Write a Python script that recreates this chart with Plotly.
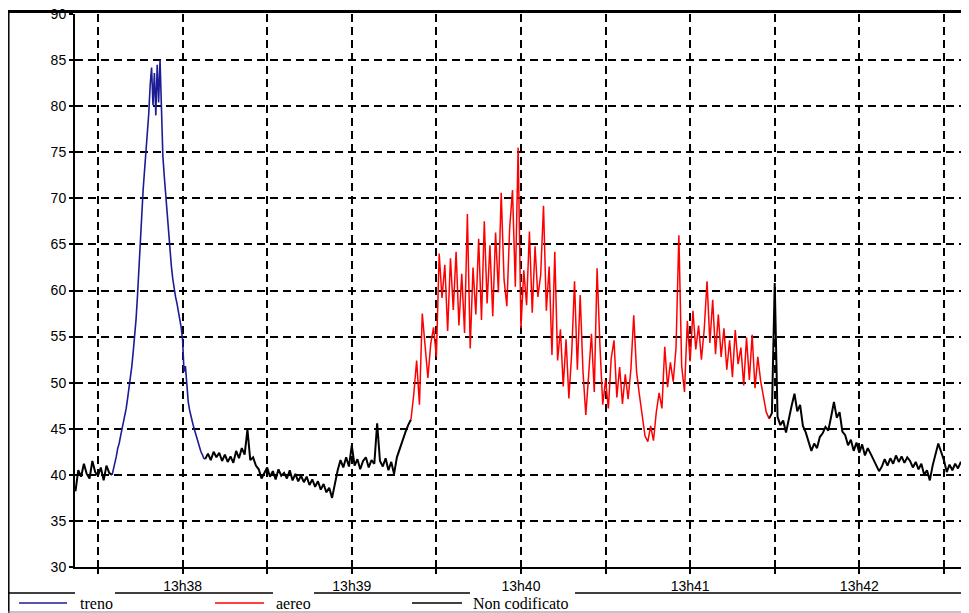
import pandas as pd
import plotly.graph_objects as go

# ---------------- data (seconds relative to 13h38:00) ----------------
black1_start, black1_step = -38, 1.0
black1_vals = [38.2, 40.5, 39.8, 41.2, 40.1, 39.6, 41.5, 40.3, 39.9, 40.8, 39.4, 41.0, 40.2, 40.0]

blue_start, blue_step = -25, 0.5
blue_vals = [40.0, 40.6, 41.5, 42.0, 42.9, 43.4, 44.2, 44.9, 45.6, 46.5, 47.2, 48.3, 49.4, 50.2,
             51.8, 53.4, 54.8, 56.9, 59.4, 62.5, 65.6, 68.2, 70.9, 73.0, 75.0, 77.4, 79.2, 82.3,
             84.2, 80.1, 83.6, 79.0, 84.5, 80.4, 85.0, 79.8, 74.6, 72.4, 70.3, 68.2, 66.0, 64.2,
             62.7, 61.3, 60.2, 59.3, 58.6, 57.8, 57.1, 56.0, 54.6, 51.2, 51.8, 49.4, 47.9, 47.0,
             46.2, 45.7, 45.1, 44.6, 43.9, 43.5, 42.9, 42.5, 42.2, 41.8, 41.7]

black2_start, black2_step = 8, 1.0
black2_vals = [41.7, 42.3, 41.6, 42.5, 41.9, 42.4, 41.5, 42.2, 41.4, 42.0, 41.3, 42.6, 41.8, 42.9,
               42.2, 44.9, 41.6, 41.9, 41.0, 40.6, 39.6, 40.3, 40.8, 39.8, 40.4, 39.5, 40.6, 39.9,
               40.2, 39.6, 40.5, 39.4, 40.1, 39.3, 39.9, 39.2, 39.8, 38.9, 39.5, 38.7, 39.3, 38.4,
               39.0, 38.1, 38.6, 37.5, 39.2, 40.5, 41.6, 40.8, 41.9, 40.9, 43.2, 41.0, 41.7, 40.6,
               41.5, 41.9, 40.8, 41.6, 41.2, 45.6, 41.5, 40.9, 41.8, 40.5, 41.4, 40.1, 41.9, 42.8,
               43.9, 44.6, 45.4, 46.0]

red_start, red_step = 81, 1.0
red_vals = [46.0, 48.8, 52.4, 47.6, 57.5, 53.8, 50.5, 54.2, 56.0, 52.8, 64.0, 59.2, 62.8, 55.6,
            63.5, 57.9, 64.2, 56.2, 61.8, 55.4, 68.3, 53.7, 62.5, 57.4, 65.6, 56.8, 67.5, 58.6,
            64.9, 57.2, 66.3, 59.8, 70.6, 61.2, 58.3, 66.8, 70.9, 60.4, 75.5, 55.9, 62.2, 58.4,
            66.4, 57.6, 64.8, 59.3, 61.7, 69.2, 57.8, 62.6, 53.0, 64.2, 52.4, 55.8, 49.6, 54.7,
            48.3, 53.2, 61.0, 51.4, 59.5, 51.2, 46.5, 50.8, 55.3, 49.0, 62.4, 54.1, 47.6, 50.3,
            47.2, 52.6, 54.6, 48.4, 51.7, 47.7, 50.9, 48.2, 51.5, 57.3, 51.2, 48.7, 46.3, 44.2,
            43.6, 45.3, 43.7, 46.8, 48.9, 47.2, 53.9, 49.5, 52.2, 50.1, 53.8, 66.0, 51.8, 49.0,
            56.7, 52.3, 57.8, 53.6, 56.2, 52.5, 55.8, 61.0, 54.3, 59.0, 53.1, 57.4, 52.8, 55.9,
            51.4, 54.6, 50.6, 55.7, 52.0, 53.8, 49.7, 54.9, 50.3, 55.2, 49.4, 52.8, 50.2, 48.6,
            46.8, 46.1]

black3_start, black3_step = 208, 1.0
black3_vals = [46.1, 46.7, 60.8, 46.3, 45.4, 45.9, 44.6, 46.2, 47.5, 48.8, 46.9, 47.6, 45.3, 44.6,
               43.5, 42.6, 43.4, 42.9, 44.1, 44.5, 45.2, 44.8, 46.3, 47.9, 46.2, 46.8, 44.7, 44.3,
               43.2, 43.8, 42.6, 43.5, 42.4, 43.3, 42.1, 42.9, 42.3, 41.6, 41.1, 40.4, 40.9, 41.7,
               41.0, 41.8, 41.2, 42.1, 41.4, 42.0, 41.3, 41.9, 41.5, 40.8, 41.4, 40.6, 41.2, 40.0,
               40.5, 39.4, 41.0, 42.3, 43.4, 42.5, 41.6, 40.3, 41.1, 40.5, 41.2, 40.7, 41.4, 40.8,
               41.2, 40.9]

tick_seconds = [-30, 0, 30, 60, 90, 120, 150, 180, 210, 240, 270]
tick_labels = ["", "13h38", "", "13h39", "", "13h40", "", "13h41", "", "13h42", ""]
y_ticks = [30, 35, 40, 45, 50, 55, 60, 65, 70, 75, 80, 85, 90]

series_names = ["treno", "aereo", "Non codificato"]
series_colors = ["#1c1c96", "#ff0000", "#000000"]

# ---------------- helpers ----------------
base = pd.Timestamp("2000-01-01 13:38:00")


def to_time(sec):
    return base + pd.to_timedelta(sec, unit="s")


def times(start, step, n):
    return [to_time(start + i * step) for i in range(n)]


b1_t = times(black1_start, black1_step, len(black1_vals))
bl_t = times(blue_start, blue_step, len(blue_vals))
b2_t = times(black2_start, black2_step, len(black2_vals))
rd_t = times(red_start, red_step, len(red_vals))
b3_t = times(black3_start, black3_step, len(black3_vals))

fig = go.Figure()

fig.add_trace(go.Scatter(
    x=b1_t + [None] + b2_t + [None] + b3_t,
    y=black1_vals + [None] + black2_vals + [None] + black3_vals,
    mode="lines", line=dict(color=series_colors[2], width=2),
    name=series_names[2], connectgaps=False, showlegend=False))

fig.add_trace(go.Scatter(
    x=[b1_t[-1]] + bl_t + [b2_t[0]],
    y=[black1_vals[-1]] + blue_vals + [black2_vals[0]],
    mode="lines", line=dict(color=series_colors[0], width=1.6),
    name=series_names[0], showlegend=False))

fig.add_trace(go.Scatter(
    x=[b2_t[-1]] + rd_t + [b3_t[0]],
    y=[black2_vals[-1]] + red_vals + [black3_vals[0]],
    mode="lines", line=dict(color=series_colors[1], width=1.5),
    name=series_names[1], showlegend=False))

# The page body has an 8px margin: the figure is drawn at (8, 8)
OFF = 8
W, H = 969 - OFF, 613 - OFF
L, R, T = 75 - OFF, 0, 14 - OFF
B = H - (567 - OFF)
PW, PH = W - L - R, H - T - B


def px(x):  # image pixel -> paper
    return (x - OFF - L) / PW


def py(y):
    return (H - B - (y - OFF)) / PH


shapes = []
line_k = dict(color="black", width=1.5)
shapes.append(dict(type="line", xref="paper", yref="paper", x0=px(8.8), x1=px(8.8), y0=py(10), y1=py(613),
                   line=line_k))
shapes.append(dict(type="line", xref="paper", yref="paper", x0=px(8), x1=px(969), y0=py(11.5), y1=py(11.5),
                   line=dict(color="black", width=3)))
for a, b in [(8, 75), (115, 273), (314, 470), (575, 969)]:
    shapes.append(dict(type="line", xref="paper", yref="paper", x0=px(a), x1=px(b), y0=py(593), y1=py(593),
                       line=dict(color="black", width=1.5)))
shapes.append(dict(type="line", xref="paper", yref="paper", x0=px(8), x1=px(969), y0=py(612), y1=py(612),
                   line=dict(color="#888888", width=1)))

legend_items = [(19, 67, 78), (215, 264, 274), (412, 462, 471)]
annotations = []
for (a, b, tx), name, col in zip(legend_items, series_names, series_colors):
    shapes.append(dict(type="line", xref="paper", yref="paper", x0=px(a), x1=px(b), y0=py(603), y1=py(603),
                       line=dict(color=col, width=1.5)))
    annotations.append(dict(xref="paper", yref="paper", x=px(tx), y=py(603), text=name, showarrow=False,
                            xanchor="left", yanchor="middle",
                            font=dict(family="Liberation Serif", size=16, color="black")))

fig.update_layout(
    width=W, height=H,
    margin=dict(l=L, r=R, t=T, b=B, autoexpand=False),
    paper_bgcolor="white", plot_bgcolor="white",
    shapes=shapes, annotations=annotations,
    showlegend=False,
    xaxis=dict(
        type="date",
        range=[to_time(-38.16), to_time(278.9)],
        tickvals=[to_time(s) for s in tick_seconds],
        ticktext=tick_labels,
        ticks="outside", ticklen=5, tickwidth=1.5, tickcolor="black",
        showgrid=True, gridcolor="black", gridwidth=1.5, griddash="8px,5px",
        showline=True, linecolor="black", linewidth=2,
        zeroline=False,
        tickfont=dict(family="Liberation Sans", size=14, color="black"),
    ),
    yaxis=dict(
        range=[30, 90],
        tickvals=y_ticks,
        ticks="outside", ticklen=4, tickwidth=1.5, tickcolor="black",
        showgrid=True, gridcolor="black", gridwidth=1.5, griddash="8px,5px",
        showline=True, linecolor="black", linewidth=2,
        zeroline=False, ticklabeloverflow="allow",
        tickfont=dict(family="Liberation Sans", size=14, color="black"),
    ),
)

fig.write_html("out.html")
